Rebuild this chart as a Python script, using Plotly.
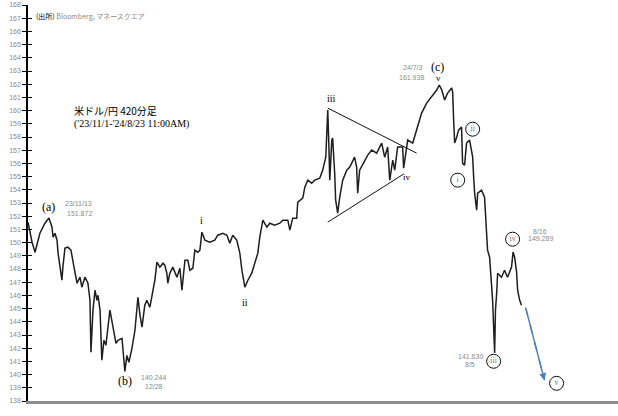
import plotly.graph_objects as go

# ---- data: USD/JPY 420-minute closes ----
dates = [
    "2023-11-01 00:00", "2023-11-02 05:00", "2023-11-03 10:00", "2023-11-05 05:00", "2023-11-08 02:00",
    "2023-11-11 02:00", "2023-11-13 12:00", "2023-11-15 07:00", "2023-11-15 22:00", "2023-11-17 02:00",
    "2023-11-18 07:00", "2023-11-18 22:00", "2023-11-21 05:00", "2023-11-21 19:00", "2023-11-23 00:00",
    "2023-11-24 19:00", "2023-11-26 14:00", "2023-11-28 10:00", "2023-11-30 05:00", "2023-12-02 00:00",
    "2023-12-03 02:00", "2023-12-04 22:00", "2023-12-06 17:00", "2023-12-07 22:00", "2023-12-08 12:00",
    "2023-12-09 17:00", "2023-12-10 22:00", "2023-12-12 02:00", "2023-12-12 17:00", "2023-12-13 22:00",
    "2023-12-15 00:00", "2023-12-16 05:00", "2023-12-17 10:00", "2023-12-19 19:00", "2023-12-21 14:00",
    "2023-12-23 10:00", "2023-12-24 14:00", "2023-12-27 00:00", "2023-12-28 17:00", "2023-12-29 22:00",
    "2023-12-31 02:00", "2024-01-01 22:00", "2024-01-03 17:00", "2024-01-05 12:00", "2024-01-06 17:00",
    "2024-01-07 22:00", "2024-01-09 14:00", "2024-01-10 19:00", "2024-01-12 14:00", "2024-01-14 10:00",
    "2024-01-15 14:00", "2024-01-16 19:00", "2024-01-18 14:00", "2024-01-20 10:00", "2024-01-21 12:00",
    "2024-01-22 17:00", "2024-01-23 07:00", "2024-01-24 12:00", "2024-01-26 07:00", "2024-01-28 17:00",
    "2024-01-30 12:00", "2024-01-31 17:00", "2024-02-02 12:00", "2024-02-04 05:00", "2024-02-05 10:00",
    "2024-02-07 05:00", "2024-02-08 10:00", "2024-02-10 05:00", "2024-02-11 10:00", "2024-02-12 14:00",
    "2024-02-14 10:00", "2024-02-17 07:00", "2024-02-20 07:00", "2024-02-22 02:00", "2024-02-25 02:00",
    "2024-02-27 12:00", "2024-02-29 05:00", "2024-03-02 00:00", "2024-03-04 10:00", "2024-03-06 05:00",
    "2024-03-07 10:00", "2024-03-09 05:00", "2024-03-11 00:00", "2024-03-13 07:00", "2024-03-16 07:00",
    "2024-03-16 22:00", "2024-03-18 02:00", "2024-03-19 22:00", "2024-03-22 07:00", "2024-03-24 00:00",
    "2024-03-27 00:00", "2024-03-30 00:00", "2024-03-31 19:00", "2024-04-03 19:00", "2024-04-05 00:00",
    "2024-04-06 17:00", "2024-04-09 02:00", "2024-04-09 17:00", "2024-04-12 17:00", "2024-04-13 22:00",
    "2024-04-15 17:00", "2024-04-18 00:00", "2024-04-19 19:00", "2024-04-22 19:00", "2024-04-24 14:00",
    "2024-04-26 10:00", "2024-04-27 00:00", "2024-04-27 14:00", "2024-04-28 05:00", "2024-04-28 19:00",
    "2024-04-30 00:00", "2024-04-30 12:00", "2024-05-01 17:00", "2024-05-02 07:00", "2024-05-03 12:00",
    "2024-05-04 17:00", "2024-05-06 12:00", "2024-05-08 22:00", "2024-05-10 17:00", "2024-05-13 14:00",
    "2024-05-14 19:00", "2024-05-15 10:00", "2024-05-16 14:00", "2024-05-19 14:00", "2024-05-21 10:00",
    "2024-05-23 19:00", "2024-05-26 17:00", "2024-05-29 17:00", "2024-05-31 12:00", "2024-06-02 07:00",
    "2024-06-03 12:00", "2024-06-05 07:00", "2024-06-06 12:00", "2024-06-08 05:00", "2024-06-11 05:00",
    "2024-06-11 19:00", "2024-06-12 10:00", "2024-06-14 05:00", "2024-06-17 05:00", "2024-06-20 02:00",
    "2024-06-22 12:00", "2024-06-25 12:00", "2024-06-28 12:00", "2024-07-01 12:00", "2024-07-03 00:00",
    "2024-07-04 12:00", "2024-07-06 05:00", "2024-07-08 00:00", "2024-07-10 10:00", "2024-07-11 00:00",
    "2024-07-11 14:00", "2024-07-12 05:00", "2024-07-13 10:00", "2024-07-14 12:00", "2024-07-16 07:00",
    "2024-07-16 22:00", "2024-07-18 02:00", "2024-07-19 07:00", "2024-07-21 02:00", "2024-07-22 22:00",
    "2024-07-23 12:00", "2024-07-24 02:00", "2024-07-25 07:00", "2024-07-25 22:00", "2024-07-28 05:00",
    "2024-07-30 00:00", "2024-07-31 05:00", "2024-07-31 19:00", "2024-08-02 00:00", "2024-08-03 05:00",
    "2024-08-03 19:00", "2024-08-05 00:00", "2024-08-05 12:00", "2024-08-06 05:00", "2024-08-06 19:00",
    "2024-08-09 02:00", "2024-08-10 22:00", "2024-08-12 17:00", "2024-08-15 02:00", "2024-08-16 00:00",
    "2024-08-16 22:00", "2024-08-18 02:00", "2024-08-18 17:00", "2024-08-19 22:00", "2024-08-21 00:00",
]
usdjpy = [
    151.55, 150.71, 150.03, 149.27, 150.71, 151.47, 151.872, 151.17, 150.41, 150.71,
    150.18, 149.20, 147.15, 148.14, 149.58, 149.65, 149.43, 148.14, 146.92, 147.38,
    146.62, 147.38, 146.92, 145.63, 141.69, 144.88, 146.39, 145.63, 146.01, 144.88,
    141.09, 142.60, 142.22, 144.88, 143.51, 142.37, 142.60, 142.75, 140.244, 141.46,
    140.93, 141.99, 143.36, 145.86, 144.50, 143.59, 145.26, 145.63, 145.10, 146.39,
    147.15, 148.52, 148.14, 148.44, 148.29, 147.68, 146.92, 147.68, 148.14, 147.38,
    148.06, 146.39, 148.67, 148.67, 147.91, 148.06, 149.43, 149.27, 149.43, 150.79,
    150.18, 150.03, 150.18, 150.56, 150.71, 150.56, 149.96, 150.56, 150.18, 149.20,
    147.91, 146.62, 147.15, 147.68, 148.89, 149.20, 150.41, 151.70, 151.17, 151.47,
    151.32, 151.47, 151.70, 151.70, 150.94, 151.85, 151.85, 153.06, 153.37, 154.20,
    154.73, 154.50, 154.73, 154.88, 155.49, 156.47, 158.29, 160.04, 157.54, 154.73,
    157.77, 157.92, 155.26, 153.22, 152.23, 153.44, 154.73, 155.49, 155.72, 156.47,
    155.72, 153.75, 155.49, 156.25, 156.63, 157.01, 156.78, 157.54, 156.47, 157.24,
    154.73, 156.25, 155.49, 157.24, 157.24, 155.64, 156.25, 157.77, 157.54, 158.75,
    159.81, 160.57, 161.03, 161.56, 161.938, 161.56, 160.80, 161.33, 161.71, 161.40,
    159.28, 157.54, 157.99, 158.52, 158.75, 156.00, 155.87, 157.54, 157.77, 156.47,
    154.96, 153.75, 152.46, 153.75, 153.97, 153.44, 150.71, 149.43, 148.89, 146.62,
    145.63, 141.63, 144.88, 146.16, 147.68, 147.38, 147.91, 147.38, 148.14, 149.289,
    148.89, 147.76, 146.39, 145.63, 145.25,
]

# triangle (wave iv) boundaries
tri_upper_x = ["2024-04-27 14:00", "2024-06-19 12:00"]
tri_upper_y = [160.19, 156.78]
tri_lower_x = ["2024-04-27 14:00", "2024-06-11 19:00"]
tri_lower_y = [151.55, 155.19]

# projected path (wave v)
proj_x = ["2024-08-23 10:00", "2024-09-03 17:00"]
proj_y = [145.09, 139.57]

# circled sub-wave labels
circ_x = ["2024-07-14 00:00", "2024-07-22 22:00", "2024-08-04 10:00", "2024-08-15 17:00", "2024-09-10 22:00"]
circ_y = [154.73, 158.59, 141.01, 150.26, 139.34]
circ_txt = ["i", "ii", "iii", "iv", "v"]

y_ticks = list(range(138, 169))

fig = go.Figure()

fig.add_trace(go.Scatter(x=dates, y=usdjpy, mode="lines",
                         line=dict(color="#1e1e1e", width=1.5), hoverinfo="skip"))
fig.add_trace(go.Scatter(x=tri_upper_x, y=tri_upper_y, mode="lines",
                         line=dict(color="#111111", width=1), hoverinfo="skip"))
fig.add_trace(go.Scatter(x=tri_lower_x, y=tri_lower_y, mode="lines",
                         line=dict(color="#111111", width=1), hoverinfo="skip"))
fig.add_trace(go.Scatter(x=circ_x, y=circ_y, mode="markers+text", text=circ_txt,
                         textposition="middle center",
                         textfont=dict(family="Liberation Serif", size=8, color="#777777"),
                         marker=dict(symbol="circle-open", size=14,
                                     color="#111111", line=dict(width=1, color="#111111")),
                         hoverinfo="skip"))

# dashed projection arrow
fig.add_trace(go.Scatter(x=proj_x, y=proj_y, mode="lines",
                         line=dict(color="#4a7ebb", width=1.4, dash="dash"), hoverinfo="skip"))
fig.add_annotation(x=proj_x[1], y=proj_y[1], ax=proj_x[0], ay=proj_y[0],
                   xref="x", yref="y", axref="x", ayref="y", text="",
                   showarrow=True, arrowhead=2, arrowsize=1, arrowwidth=1.4,
                   arrowcolor="#4a7ebb", standoff=0)

GRAY = "#8a8a8a"
SANS = "Liberation Sans"
SERIF = "Liberation Serif"


def label(x, y, text, dx=0, dy=0, size=8, color=GRAY, family=SANS):
    fig.add_annotation(x=x, y=y, xref="x", yref="y", text=text, showarrow=False,
                       xshift=dx, yshift=dy, font=dict(size=size, color=color, family=family))


# (a)
label(dates[6], usdjpy[6], "(a)", 0, 11, 12, "#000", SERIF)
label(dates[6], usdjpy[6], "23/11/13", 30, 14, 7)
label(dates[6], usdjpy[6], "151.872", 31, 4, 7)
# (b)
label(dates[38], usdjpy[38], "(b)", 0, -10, 12, "#000", SERIF)
label(dates[38], usdjpy[38], "140.244", 29, -6, 7)
label(dates[38], usdjpy[38], "12/28", 29, -15, 7)
# i, ii, iii, iv
label(dates[69], usdjpy[69], "i", 0, 12, 10, "#000", SERIF)
label(dates[81], usdjpy[81], "ii", 0, -15, 10, "#000", SERIF)
label(dates[107], usdjpy[107], "iii", 4, 12, 10, "#000", SERIF)
label(dates[135], usdjpy[135], "iv", 3, -9, 9, "#000", SERIF)
# (c) / v
label(dates[144], usdjpy[144], "(c)", -2, 18, 12, "#000", SERIF)
label(dates[144], usdjpy[144], "v", -1, 7, 9, "#000", SERIF)
label(dates[144], usdjpy[144], "24/7/3", -26, 18, 7)
label(dates[144], usdjpy[144], "161.938", -28, 8, 7)
# 8/5 low, 8/16 high
label(dates[171], usdjpy[171], "141.630", -24, -3, 7)
label(dates[171], usdjpy[171], "8/5", -25, -11, 7)
label(dates[179], usdjpy[179], "8/16", 27, 20, 7)
label(dates[179], usdjpy[179], "149.289", 27, 13, 7)

# source and title
fig.add_annotation(xref="paper", yref="y", x=0.01, y=167.2, xanchor="left", showarrow=False,
                   text="<span style='color:#000'>(出所)</span> Bloomberg, マネースクエア",
                   font=dict(size=7, color=GRAY, family="Noto Sans CJK JP"))
fig.add_annotation(xref="paper", yref="y", x=0.074, y=160.0, xanchor="left", yanchor="middle",
                   showarrow=False, text="米ドル/円 420分足",
                   font=dict(size=10, color="#000", family="Noto Sans CJK JP"))
fig.add_annotation(xref="paper", yref="y", x=0.074, y=159.0, xanchor="left", yanchor="middle",
                   showarrow=False, text="('23/11/1-'24/8/23 11:00AM)",
                   font=dict(size=10, color="#000", family="Liberation Serif"))

fig.update_layout(
    width=618, height=416,
    margin=dict(l=28, r=0, t=5, b=15),
    paper_bgcolor="white", plot_bgcolor="white",
    showlegend=False,
    xaxis=dict(range=["2023-11-01", "2024-10-17 12:00"], showgrid=False, zeroline=False,
               showticklabels=False, ticks="", showline=True, linecolor="#8c8c8c", linewidth=3,
               automargin=False),
    yaxis=dict(range=[138, 168], tickvals=y_ticks, showgrid=False, zeroline=False,
               showline=True, linecolor="#000", linewidth=1.5, automargin=False,
               ticks="outside", ticklen=4, tickwidth=1.2, tickcolor="#000",
               tickfont=dict(size=7, color=GRAY, family=SANS)),
    yaxis2=dict(range=[138, 168], tickvals=y_ticks, overlaying="y", side="left",
                showgrid=False, zeroline=False, showticklabels=False, automargin=False,
                ticks="inside", ticklen=4, tickwidth=1.2, tickcolor="#000"),
)
# invisible trace to activate yaxis2 for the inner half of the ticks
fig.add_trace(go.Scatter(x=[dates[0]], y=[150], yaxis="y2", mode="markers",
                         marker=dict(opacity=0), hoverinfo="skip"))

fig.write_html("out.html", config={"displayModeBar": False},
               post_script="document.body.style.margin='0';document.body.style.padding='0';")
